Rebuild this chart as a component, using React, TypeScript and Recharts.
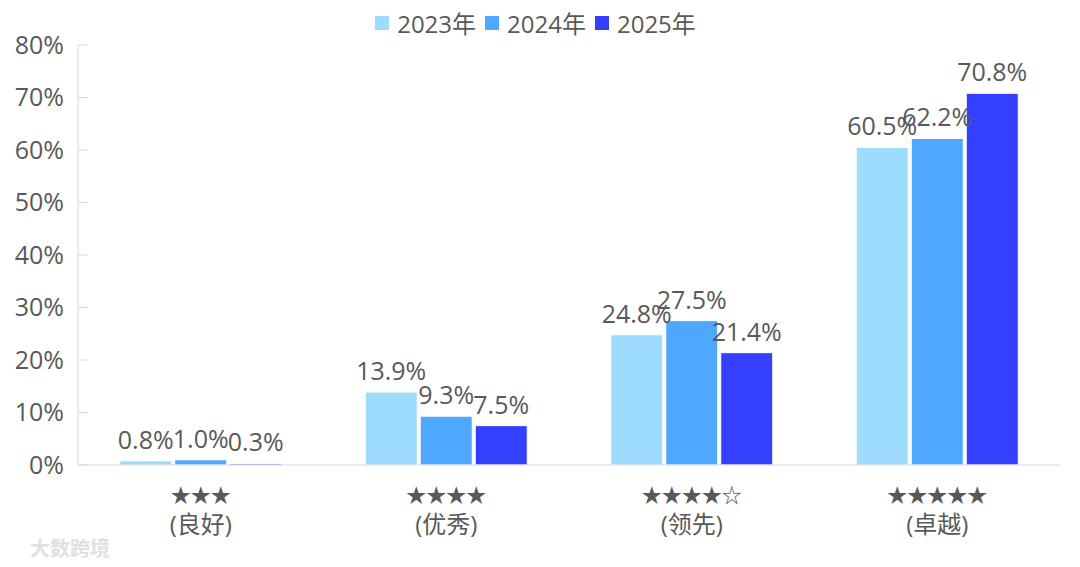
import React from 'react';
import { BarChart, Bar, XAxis, YAxis, LabelList } from 'recharts';

const categories = ['★★★\n(良好)', '★★★★\n(优秀)', '★★★★☆\n(领先)', '★★★★★\n(卓越)'];
const values2023 = [0.8, 13.9, 24.8, 60.5];
const values2024 = [1.0, 9.3, 27.5, 62.2];
const values2025 = [0.3, 7.5, 21.4, 70.8];
const yTicks = [0, 10, 20, 30, 40, 50, 60, 70, 80];

const series = [
  { key: 'y2023', name: '2023年', color: '#9DDCFC' },
  { key: 'y2024', name: '2024年', color: '#4FA8FF' },
  { key: 'y2025', name: '2025年', color: '#3341FF' },
];

const data = categories.map((name, i) => ({
  name,
  y2023: values2023[i],
  y2024: values2024[i],
  y2025: values2025[i],
}));

const FONT = '"Open Sans", "Noto Sans CJK SC", sans-serif';
const TEXT = '#595959';

const CategoryTick = (props: any) => {
  const { x, y, payload } = props;
  const lines = String(payload.value).split('\n');
  return (
    <g transform={`translate(${x},${y})`}>
      <text textAnchor="middle" fill={TEXT} fontFamily={FONT}>
        <tspan x={0} dy={30} fontSize={20}>{lines[0]}</tspan>
        <tspan x={0} dy={30} fontSize={24}>{lines[1]}</tspan>
      </text>
    </g>
  );
};

const LegendRow = () => (
  <div
    style={{
      position: 'absolute',
      top: 5,
      left: 0,
      width: 1080,
      display: 'flex',
      justifyContent: 'center',
      alignItems: 'center',
      fontFamily: FONT,
      fontSize: 24,
      color: TEXT,
    }}
  >
    {series.map((s) => (
      <div key={s.key} style={{ display: 'flex', alignItems: 'center', marginRight: 9 }}>
        <span style={{ width: 14, height: 14, background: s.color, display: 'inline-block', marginRight: 8 }} />
        <span>{s.name}</span>
      </div>
    ))}
  </div>
);

export default function App() {
  return (
    <div style={{ position: 'absolute', left: 0, top: 0, width: 1080, height: 567, background: '#fff' }}>
      <BarChart
        width={1080}
        height={567}
        data={data}
        margin={{ top: 45, right: 20, left: 0, bottom: 0 }}
        barCategoryGap="17%"
        barGap={3}
      >
        <XAxis
          dataKey="name"
          height={102}
          interval={0}
          tickLine={false}
          axisLine={{ stroke: '#D9D9D9' }}
          tick={<CategoryTick />}
        />
        <YAxis
          width={78}
          domain={[0, 80]}
          ticks={yTicks}
          tickFormatter={(v: number) => `${v}%`}
          tick={{ fill: TEXT, fontSize: 25, fontFamily: FONT }}
          tickSize={-10}
          tickMargin={24}
          tickLine={{ stroke: '#D9D9D9' }}
          axisLine={{ stroke: '#D9D9D9' }}
        />
        {series.map((s) => (
          <Bar key={s.key} dataKey={s.key} name={s.name} fill={s.color} stroke="#fff" strokeWidth={1} isAnimationActive={false}>
            <LabelList
              dataKey={s.key}
              position="top"
              offset={12}
              formatter={(v: any) => `${Number(v).toFixed(1)}%`}
              style={{ fill: TEXT, fontSize: 25, fontFamily: FONT }}
            />
          </Bar>
        ))}
      </BarChart>
      <LegendRow />
      <div style={{ position: 'absolute', left: 30, top: 533, fontFamily: FONT, fontSize: 20, color: '#E0E0E0', fontWeight: 700 }}>
        大数跨境
      </div>
    </div>
  );
}
